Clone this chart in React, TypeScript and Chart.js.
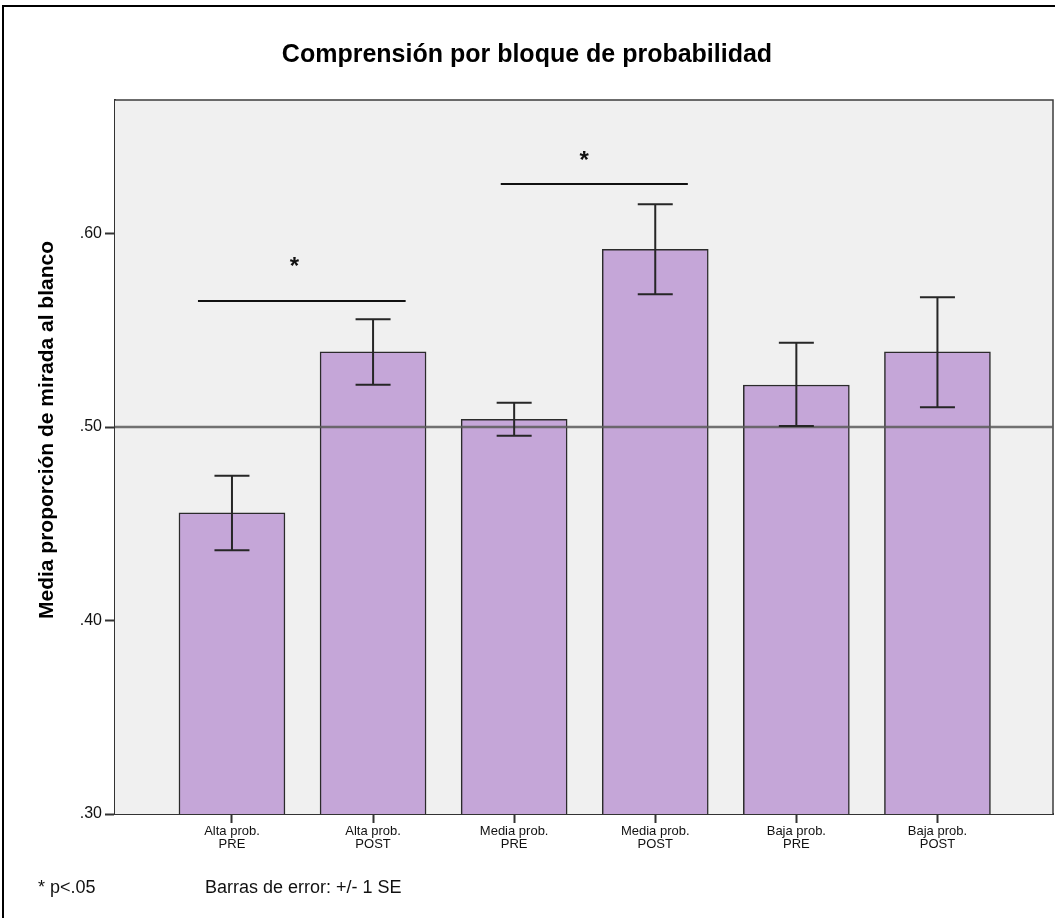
import React, { useEffect, useRef } from "react";
import { Chart, registerables } from "chart.js";

Chart.register(...registerables);

const categoriesTop = ["Alta prob.", "Alta prob.", "Media prob.", "Media prob.", "Baja prob.", "Baja prob."];
const categoriesBottom = ["PRE", "POST", "PRE", "POST", "PRE", "POST"];
const means = [0.4557, 0.5389, 0.504, 0.5918, 0.5217, 0.5389];
const errLow = [0.4363, 0.5219, 0.4955, 0.5686, 0.5005, 0.5102];
const errHigh = [0.4748, 0.5557, 0.5126, 0.6151, 0.5436, 0.567];
const yTicks = [0.3, 0.4, 0.5, 0.6];
const sig1X = [-0.241, 1.231];
const sig1Y = 0.5651;
const sig1Star = [0.442, 0.5846];
const sig2X = [1.905, 3.231];
const sig2Y = 0.6256;
const sig2Star = [2.497, 0.6392];
const refLine = 0.5;

const FONT = "Arial, 'Liberation Sans', sans-serif";

const decorPlugin = {
  id: "decor",
  beforeDatasetsDraw(chart: any) {
    const { ctx, chartArea } = chart;
    ctx.save();
    ctx.fillStyle = "#f0f0f0";
    ctx.fillRect(chartArea.left, chartArea.top, chartArea.right - chartArea.left, chartArea.bottom - chartArea.top);
    ctx.strokeStyle = "#3c3c3c";
    ctx.lineWidth = 1.5;
    ctx.beginPath();
    ctx.moveTo(chartArea.left, chartArea.top);
    ctx.lineTo(chartArea.right, chartArea.top);
    ctx.lineTo(chartArea.right, chartArea.bottom);
    ctx.stroke();
    ctx.restore();
  },
  afterDatasetsDraw(chart: any) {
    const { ctx, chartArea, scales } = chart;
    const x = scales.x;
    const y = scales.y;
    ctx.save();
    ctx.strokeStyle = "rgba(90,90,90,0.85)";
    ctx.lineWidth = 2.5;
    const ry = y.getPixelForValue(refLine);
    ctx.beginPath();
    ctx.moveTo(chartArea.left, ry);
    ctx.lineTo(chartArea.right, ry);
    ctx.stroke();
    ctx.strokeStyle = "#262626";
    ctx.lineWidth = 2;
    for (let i = 0; i < means.length; i++) {
      const cx = x.getPixelForValue(i);
      const yl = y.getPixelForValue(errLow[i]);
      const yh = y.getPixelForValue(errHigh[i]);
      ctx.beginPath();
      ctx.moveTo(cx, yl);
      ctx.lineTo(cx, yh);
      ctx.moveTo(cx - 17.5, yl);
      ctx.lineTo(cx + 17.5, yl);
      ctx.moveTo(cx - 17.5, yh);
      ctx.lineTo(cx + 17.5, yh);
      ctx.stroke();
    }
    ctx.fillStyle = "#111";
    ctx.font = `bold 24px ${FONT}`;
    ctx.textAlign = "center";
    ctx.textBaseline = "middle";
    [sig1Star, sig2Star].forEach((s) => {
      ctx.fillText("*", x.getPixelForValue(s[0]), y.getPixelForValue(s[1]) + 4);
    });
    ctx.restore();
  },
  afterDraw(chart: any) {
    const { ctx } = chart;
    ctx.save();
    ctx.strokeStyle = "#000";
    ctx.lineWidth = 2;
    ctx.beginPath();
    ctx.moveTo(3, 918);
    ctx.lineTo(3, 6);
    ctx.lineTo(1055, 6);
    ctx.stroke();
    ctx.fillStyle = "#000";
    ctx.font = `bold 25px ${FONT}`;
    ctx.textAlign = "center";
    ctx.textBaseline = "alphabetic";
    ctx.fillText("Comprensión por bloque de probabilidad", 527, 62);
    ctx.save();
    ctx.translate(53, 430);
    ctx.rotate(-Math.PI / 2);
    ctx.font = `bold 21px ${FONT}`;
    ctx.textAlign = "center";
    ctx.fillText("Media proporción de mirada al blanco", 0, 0);
    ctx.restore();
    ctx.font = `18px ${FONT}`;
    ctx.textAlign = "left";
    ctx.fillStyle = "#111";
    ctx.fillText("* p<.05", 38, 893);
    ctx.fillText("Barras de error: +/- 1 SE", 205, 893);
    ctx.restore();
  },
};

export default function App() {
  const ref = useRef<HTMLCanvasElement | null>(null);
  useEffect(() => {
    if (!ref.current) return;
    const chart = new Chart(ref.current, {
      type: "bar",
      data: {
        datasets: [
          {
            type: "bar",
            data: means.map((v, i) => ({ x: i, y: v })),
            backgroundColor: "#c5a6d8",
            borderColor: "#2b2b2b",
            borderWidth: 1.5,
            barThickness: 106,
            order: 2,
          } as any,
          {
            type: "line",
            data: sig1X.map((v) => ({ x: v, y: sig1Y })),
            borderColor: "#111",
            borderWidth: 2,
            pointRadius: 0,
            fill: false,
            order: 1,
          } as any,
          {
            type: "line",
            data: sig2X.map((v) => ({ x: v, y: sig2Y })),
            borderColor: "#111",
            borderWidth: 2,
            pointRadius: 0,
            fill: false,
            order: 1,
          } as any,
        ],
      },
      options: {
        responsive: false,
        animation: false,
        layout: { padding: { top: 100, right: 2, left: 0, bottom: 0 } },
        plugins: { legend: { display: false }, tooltip: { enabled: false }, title: { display: false } },
        scales: {
          x: {
            type: "linear",
            offset: false,
            min: -0.829,
            max: 5.819,
            afterBuildTicks: (s: any) => {
              s.ticks = means.map((_, i) => ({ value: i }));
            },
            afterFit: (s: any) => {
              s.height = 104;
            },
            grid: { offset: false, drawOnChartArea: false, tickLength: 9, tickColor: "#333", tickWidth: 2 },
            border: { display: true, color: "#333", width: 2 },
            ticks: {
              autoSkip: false,
              maxRotation: 0,
              padding: 2,
              color: "#111",
              font: { family: FONT, size: 13, lineHeight: 1.0 },
              callback: (v: any) => [categoriesTop[v], categoriesBottom[v]],
            },
          },
          y: {
            type: "linear",
            min: 0.3,
            max: 0.669,
            afterBuildTicks: (s: any) => {
              s.ticks = yTicks.map((v) => ({ value: v }));
            },
            afterFit: (s: any) => {
              s.width = 115;
            },
            grid: { drawOnChartArea: false, tickLength: 10, tickColor: "#333", tickWidth: 2 },
            border: { display: true, color: "#333", width: 2 },
            ticks: {
              padding: 3,
              color: "#111",
              font: { family: FONT, size: 16 },
              callback: (v: any) => Number(v).toFixed(2).replace(/^0/, ""),
            },
          },
        },
      } as any,
      plugins: [decorPlugin],
    });
    return () => chart.destroy();
  }, []);
  return (
    <div style={{ position: "absolute", left: 0, top: 0, width: 1055, height: 918, background: "#fff" }}>
      <canvas ref={ref} width={1055} height={918} style={{ display: "block", width: 1055, height: 918 }} />
    </div>
  );
}
